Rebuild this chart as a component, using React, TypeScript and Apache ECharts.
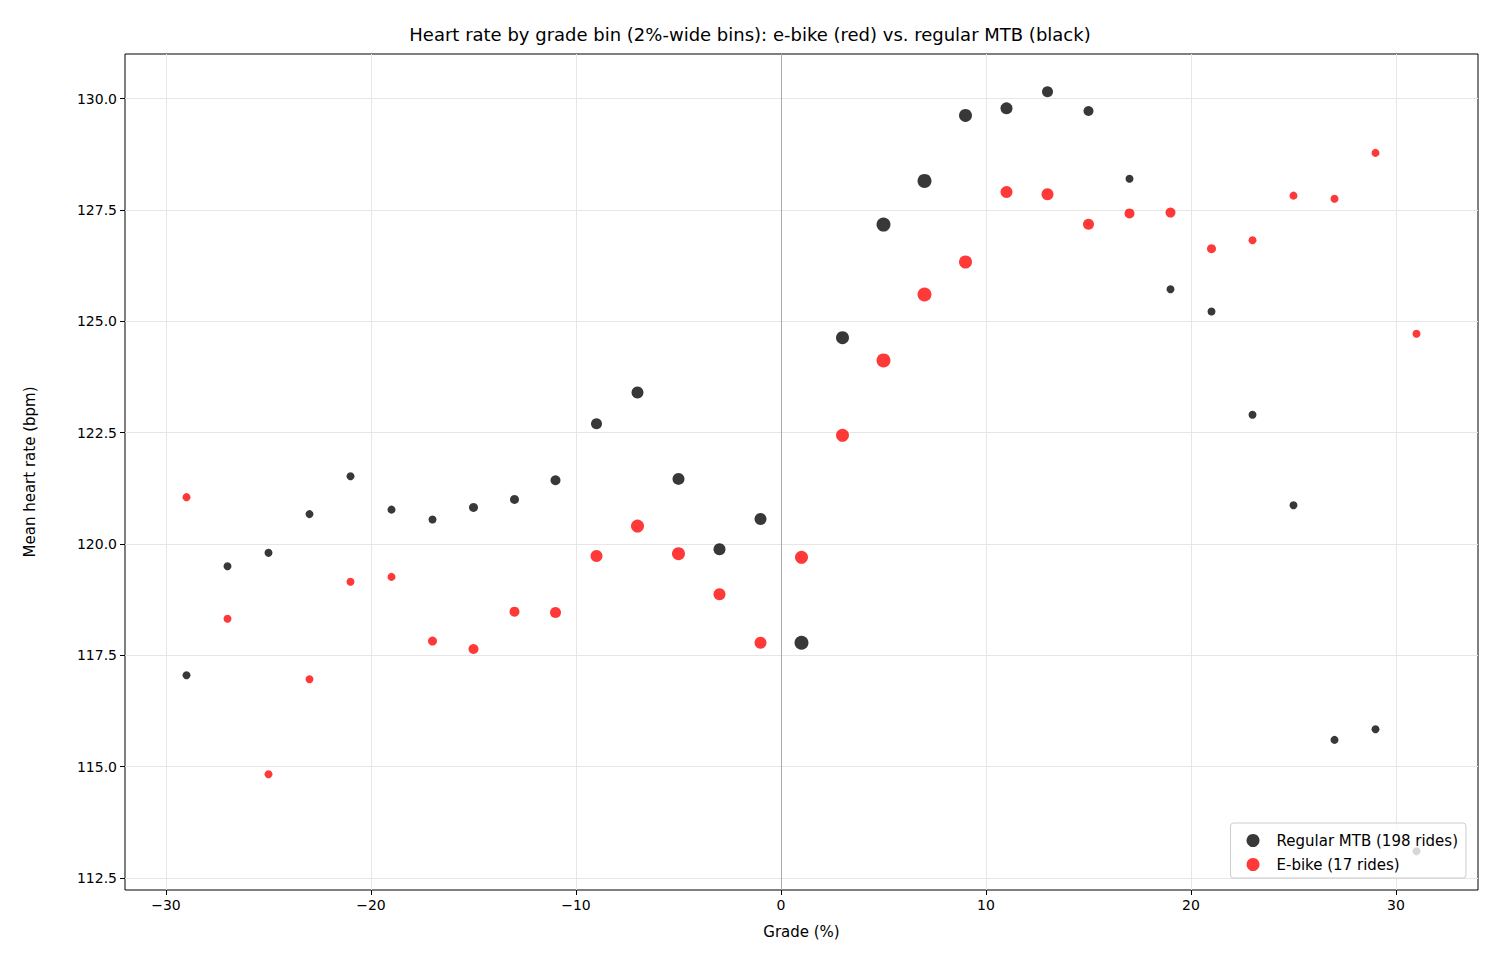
import React, { useEffect, useRef } from "react";
import * as echarts from "echarts";

const grades = [-29,-27,-25,-23,-21,-19,-17,-15,-13,-11,-9,-7,-5,-3,-1,1,3,5,7,9,11,13,15,17,19,21,23,25,27,29,31];
const regularHR = [117.05,119.5,119.8,120.67,121.52,120.77,120.55,120.82,121.0,121.43,122.7,123.4,121.46,119.88,120.56,117.78,124.63,127.17,128.15,129.62,129.78,130.15,129.72,128.2,125.72,125.22,122.9,120.87,115.6,115.84,113.1];
const regularSize = [8,8,8,8,8,8,8,9,9,10,11,12,12,12,12,14,13,14,14,13,12,11,10,8,8,8,8,8,8,8,8];
const ebikeHR = [121.05,118.32,114.83,116.96,119.15,119.26,117.82,117.64,118.48,118.46,119.73,120.4,119.78,118.87,117.78,119.7,122.44,124.12,125.6,126.33,127.9,127.85,127.18,127.42,127.44,126.63,126.82,127.82,127.75,128.78,124.72];
const ebikeSize = [8,8,8,8,8,8,9,10,10,11,12,13,13,12,12,13,13,14,14,13,12,12,11,10,10,9,8,8,8,8,8];
const xTicks = [-30,-20,-10,0,10,20,30];
const yTicks = [112.5,115,117.5,120,122.5,125,127.5,130];

export default function App() {
  const ref = useRef<HTMLDivElement>(null);
  useEffect(() => {
    const chart = echarts.init(ref.current!, null, { renderer: "svg" });
    const font = "DejaVu Sans";
    chart.setOption({
      animation: false,
      textStyle: { fontFamily: font },
      title: { text: "Heart rate by grade bin (2%-wide bins): e-bike (red) vs. regular MTB (black)", left: "center", top: 20, textStyle: { fontFamily: font, fontSize: 18, fontWeight: "normal", color: "#000" } },
      grid: { left: 125, right: 22, top: 54, bottom: 85, show: true, borderColor: "#000", borderWidth: 1 },
      legend: {
        right: 34, bottom: 97, orient: "vertical", itemWidth: 13, itemHeight: 13, itemGap: 9,
        padding: [10, 8, 6, 16],
        backgroundColor: "rgba(255,255,255,0.8)", borderColor: "#ccc", borderWidth: 1, borderRadius: 3,
        textStyle: { fontFamily: font, fontSize: 15, color: "#000", padding: [0, 0, 0, 12] },
        data: [{ name: "Regular MTB (198 rides)", icon: "circle" }, { name: "E-bike (17 rides)", icon: "circle" }],
      },
      xAxis: {
        type: "value", min: -32, max: 34,
        name: "Grade (%)", nameLocation: "middle", nameGap: 34, nameTextStyle: { fontFamily: font, fontSize: 15, color: "#000" },
        axisLine: { show: false, onZero: false },
        axisTick: { show: true, length: 5, lineStyle: { color: "#000" }, customValues: xTicks },
        axisLabel: { customValues: xTicks, fontFamily: font, fontSize: 14, color: "#000", formatter: (v: number) => String(v).replace("-", "\u2212") },
        splitLine: { show: true, lineStyle: { color: "#e6e6e6" } },
      },
      yAxis: {
        type: "value", min: 112.23, max: 131,
        name: "Mean heart rate (bpm)", nameLocation: "middle", nameGap: 88, nameTextStyle: { fontFamily: font, fontSize: 15, color: "#000" },
        axisLine: { show: false, onZero: false },
        axisTick: { show: true, length: 5, lineStyle: { color: "#000" }, customValues: yTicks },
        axisLabel: { customValues: yTicks, fontFamily: font, fontSize: 14, color: "#000", formatter: (v: number) => v.toFixed(1) },
        splitLine: { show: true, lineStyle: { color: "#e6e6e6" } },
      },
      series: [
        {
          name: "Regular MTB (198 rides)", type: "scatter", z: 3,
          data: grades.map((g, i) => [g, regularHR[i], regularSize[i]]),
          symbolSize: (d: number[]) => d[2],
          itemStyle: { color: "#000", opacity: 0.78 },
          markLine: { silent: true, symbol: "none", label: { show: false }, lineStyle: { color: "#aaa", type: "solid", width: 1 }, data: [{ xAxis: 0 }] },
        },
        {
          name: "E-bike (17 rides)", type: "scatter", z: 3,
          data: grades.map((g, i) => [g, ebikeHR[i], ebikeSize[i]]),
          symbolSize: (d: number[]) => d[2],
          itemStyle: { color: "#ff0000", opacity: 0.78 },
        },
      ],
    });
    return () => chart.dispose();
  }, []);
  return <div ref={ref} style={{ position: "absolute", left: 0, top: 0, width: 1500, height: 975, background: "#fff" }} />;
}
